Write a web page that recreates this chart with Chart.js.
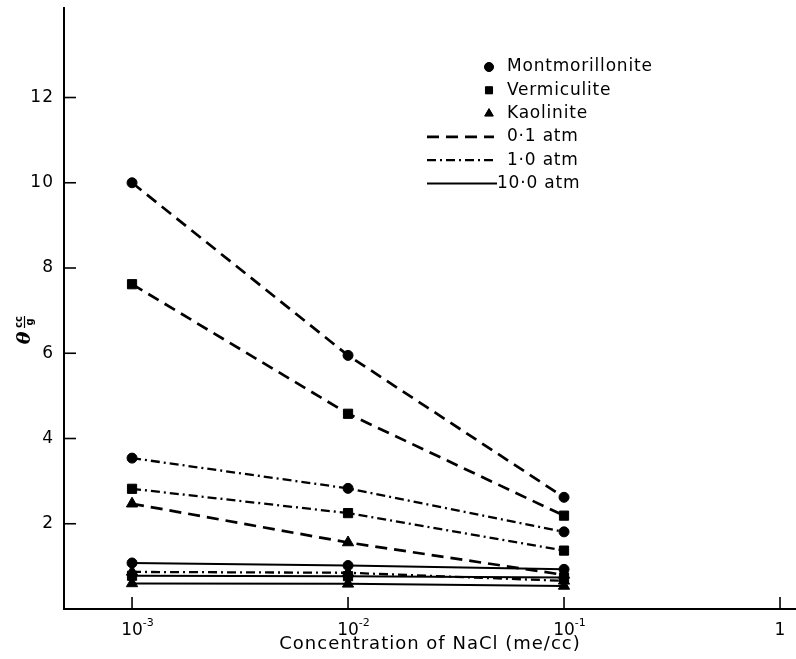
<!DOCTYPE html>
<html>
<head>
<meta charset="utf-8">
<script src="https://cdn.jsdelivr.net/npm/chart.js@4.4.1/dist/chart.umd.min.js"></script>
<style>
  html, body { margin: 0; padding: 0; background: #fff; }
  #wrap { width: 796px; height: 659px; position: relative; }
</style>
</head>
<body>
<div id="wrap"><canvas id="swellChart"></canvas></div>
<script>
// NaCl concentration (me/cc) at which each clay was measured
const concentrations = [0.001, 0.01, 0.1];

// theta (cc/g) per clay and applied pressure
const montmorillonite01 = [10.0, 5.95, 2.62];
const montmorillonite1 = [3.54, 2.83, 1.81];
const montmorillonite10 = [1.08, 1.02, 0.93];
const vermiculite01 = [7.62, 4.58, 2.19];
const vermiculite1 = [2.82, 2.25, 1.37];
const vermiculite10 = [0.78, 0.77, 0.74];
const kaolinite01 = [2.47, 1.56, 0.80];
const kaolinite1 = [0.87, 0.85, 0.66];
const kaolinite10 = [0.60, 0.59, 0.54];

const clayNames = ['Montmorillonite', 'Vermiculite', 'Kaolinite'];
const pressureNames = ['0·1 atm', '1·0 atm', '10·0 atm'];

const xTickValues = [0.001, 0.01, 0.1, 1];
const xTickExponents = ['-3', '-2', '-1', ''];
const yTickValues = [2, 4, 6, 8, 10, 12];

const clayMarkers = ['circle', 'rect', 'triangle'];
const markerSizes = [5, 6.5, 6.5];
const pressureDashes = [[12, 7], [9, 4, 2, 4], []];
const pressureWidths = [2.7, 2.3, 2];

const seriesTable = [
    [montmorillonite01, montmorillonite1, montmorillonite10],
    [vermiculite01, vermiculite1, vermiculite10],
    [kaolinite01, kaolinite1, kaolinite10]
];

const FONT = '"DejaVu Sans", sans-serif';
Chart.defaults.font.family = FONT;
Chart.defaults.color = '#000';

const datasets = [];
seriesTable.forEach((rows, c) => {
    rows.forEach((values, p) => {
        datasets.push({
            label: clayNames[c] + ' ' + pressureNames[p],
            data: concentrations.map((x, i) => ({ x: x, y: values[i] })),
            showLine: true,
            borderColor: '#000',
            borderWidth: pressureWidths[p],
            borderDash: pressureDashes[p],
            pointStyle: clayMarkers[c],
            pointRadius: markerSizes[c],
            pointBackgroundColor: '#000',
            pointBorderColor: '#000',
            pointBorderWidth: 1
        });
    });
});

// the lettering is set a little loose
const spacing = {
    id: 'spacing',
    beforeDraw(chart) { chart.ctx.letterSpacing = '1px'; }
};

// short tick marks pointing into the plot, plus the 10^n labels
const axisDecor = {
    id: 'axisDecor',
    afterDraw(chart) {
        const ctx = chart.ctx;
        const xs = chart.scales.x;
        const ys = chart.scales.y;
        const area = chart.chartArea;
        ctx.save();
        ctx.strokeStyle = '#000';
        ctx.lineWidth = 1.6;
        ctx.setLineDash([]);
        yTickValues.forEach(v => {
            const py = ys.getPixelForValue(v);
            ctx.beginPath();
            ctx.moveTo(area.left, py);
            ctx.lineTo(area.left + 12, py);
            ctx.stroke();
        });
        ctx.letterSpacing = '0px';
        xTickValues.forEach((v, i) => {
            const px = xs.getPixelForValue(v);
            ctx.beginPath();
            ctx.moveTo(px, area.bottom);
            ctx.lineTo(px, area.bottom - 12);
            ctx.stroke();

            ctx.fillStyle = '#000';
            ctx.textBaseline = 'alphabetic';
            const base = area.bottom + 26;
            ctx.font = '17px ' + FONT;
            ctx.textAlign = 'center';
            if (xTickExponents[i]) {
                ctx.fillText('10', px, base);
                const half = ctx.measureText('10').width / 2;
                ctx.font = '11px ' + FONT;
                ctx.textAlign = 'left';
                ctx.fillText(xTickExponents[i], px + half, base - 9);
            } else {
                ctx.fillText('1', px, base);
            }
        });
        ctx.restore();
    }
};

// rotated y title: theta with a small cc/g fraction
const yTitle = {
    id: 'yTitle',
    afterDraw(chart) {
        const ctx = chart.ctx;
        ctx.save();
        ctx.letterSpacing = '0px';
        ctx.translate(24, 338);
        ctx.rotate(-Math.PI / 2);
        ctx.fillStyle = '#000';
        ctx.textBaseline = 'middle';
        ctx.textAlign = 'center';
        ctx.font = 'italic bold 19px "DejaVu Serif", serif';
        ctx.fillText('θ', 0, 1);
        ctx.font = 'bold 10px ' + FONT;
        ctx.fillText('cc', 16, -5);
        ctx.fillText('g', 16, 6);
        ctx.strokeStyle = '#000';
        ctx.lineWidth = 1.2;
        ctx.beginPath();
        ctx.moveTo(10, 0.5);
        ctx.lineTo(22, 0.5);
        ctx.stroke();
        ctx.restore();
    }
};

// key: clay markers, then pressure line styles
const keyBox = {
    id: 'keyBox',
    afterDraw(chart) {
        const ctx = chart.ctx;
        const rowH = 23.3;
        const top = 67;
        ctx.save();
        ctx.letterSpacing = '0.8px';
        ctx.fillStyle = '#000';
        ctx.strokeStyle = '#000';
        ctx.font = '17px ' + FONT;
        ctx.textBaseline = 'middle';
        ctx.textAlign = 'left';
        clayNames.forEach((name, i) => {
            const y = top + i * rowH;
            Chart.helpers.drawPoint(ctx, {
                pointStyle: clayMarkers[i],
                radius: i === 0 ? 4.5 : 5,
                borderWidth: 1,
                rotation: 0
            }, 489, y);
            ctx.fill();
            ctx.fillText(name, 507, y);
        });
        pressureNames.forEach((name, i) => {
            const y = top + (clayNames.length + i) * rowH;
            const tx = i === 2 ? 497 : 507;
            ctx.lineWidth = pressureWidths[i];
            ctx.setLineDash(pressureDashes[i]);
            ctx.beginPath();
            ctx.moveTo(427, y);
            ctx.lineTo(i === 2 ? tx : 494, y);
            ctx.stroke();
            ctx.setLineDash([]);
            ctx.fillText(name, tx, y);
        });
        ctx.restore();
    }
};

new Chart(document.getElementById('swellChart'), {
    type: 'scatter',
    data: { datasets: datasets },
    options: {
        responsive: true,
        maintainAspectRatio: false,
        animation: false,
        layout: { autoPadding: false, padding: { top: 8, right: 0, left: 0, bottom: 0 } },
        plugins: {
            legend: { display: false },
            tooltip: { enabled: false }
        },
        scales: {
            x: {
                type: 'logarithmic',
                min: Math.pow(10, -3.315),
                max: Math.pow(10, 0.074),
                afterBuildTicks: scale => {
                    scale.ticks = xTickValues.map(v => ({ value: v }));
                },
                afterFit: scale => {
                    scale.height = 50;
                    scale.paddingLeft = 0;
                    scale.paddingRight = 0;
                },
                grid: { display: false, drawTicks: false },
                border: { display: true, color: '#000', width: 2 },
                ticks: { display: false },
                title: {
                    display: true,
                    text: 'Concentration of NaCl (me/cc)',
                    color: '#000',
                    font: { size: 18 },
                    padding: { top: 0, bottom: 4 }
                }
            },
            y: {
                type: 'linear',
                min: 0,
                max: 14.1,
                afterBuildTicks: scale => {
                    scale.ticks = yTickValues.map(v => ({ value: v }));
                },
                afterFit: scale => {
                    scale.width = 64;
                    scale.paddingTop = 0;
                    scale.paddingBottom = 0;
                },
                grid: { display: false, drawTicks: false },
                border: { display: true, color: '#000', width: 2 },
                ticks: {
                    color: '#000',
                    padding: 10,
                    font: { size: 17 },
                    callback: v => String(v)
                }
            }
        }
    },
    plugins: [spacing, axisDecor, yTitle, keyBox]
});
</script>
</body>
</html>
